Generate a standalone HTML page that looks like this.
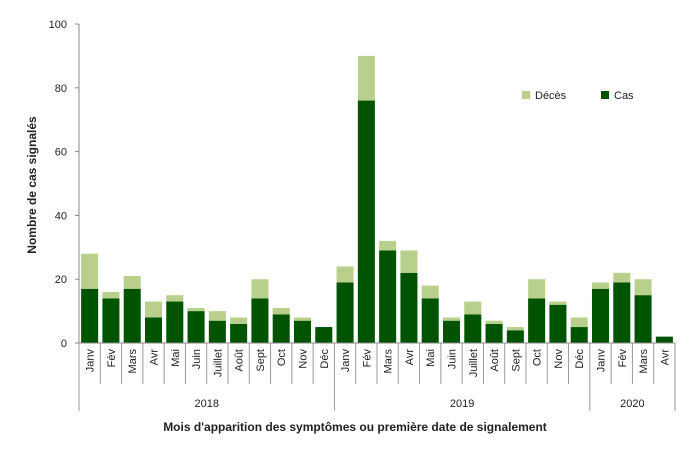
<!DOCTYPE html>
<html><head><meta charset="utf-8"><style>
body{margin:0;background:#fff;}
svg text{font-family:"Liberation Sans",sans-serif;fill:#222;}
</style></head><body>
<svg id="chart" width="699" height="450" viewBox="0 0 699 450" xmlns="http://www.w3.org/2000/svg">
<g id="yaxis"></g>
<g id="bars"></g>
<g id="xaxis"></g>
<text transform="translate(36,185) rotate(-90)" text-anchor="middle" font-size="12" font-weight="bold">Nombre de cas signalés</text>
<text x="355" y="431" text-anchor="middle" font-size="12" font-weight="bold">Mois d'apparition des symptômes ou première date de signalement</text>
<g>
<rect x="522" y="91" width="8" height="8" fill="#b8d08c"/>
<text x="535" y="99" font-size="11">Décès</text>
<rect x="601" y="91" width="8" height="8" fill="#005300"/>
<text x="614" y="99" font-size="11">Cas</text>
</g>
</svg>
<script>
const months = ["Janv","Fév","Mars","Avr","Mai","Juin","Juillet","Août","Sept","Oct","Nov","Déc","Janv","Fév","Mars","Avr","Mai","Juin","Juillet","Août","Sept","Oct","Nov","Déc","Janv","Fév","Mars","Avr"];
const cas = [17,14,17,8,13,10,7,6,14,9,7,5,19,76,29,22,14,7,9,6,4,14,12,5,17,19,15,2];
const deces = [11,2,4,5,2,1,3,2,6,2,1,0,5,14,3,7,4,1,4,1,1,6,1,3,2,3,5,0];
const years = ["2018","2019","2020"];
const yearCounts = [12,12,4];
const yTicks = [0,20,40,60,80,100];

const NS="http://www.w3.org/2000/svg";
const x0=79,x1=675,yBase=343,yTop=24,yMax=100;
const bw=(x1-x0)/months.length;
const y=v=>yBase-(v/yMax)*(yBase-yTop);
function mk(tag,attrs,parent){const e=document.createElementNS(NS,tag);for(const k in attrs)e.setAttribute(k,attrs[k]);parent.appendChild(e);return e;}
const ya=document.getElementById('yaxis'),ba=document.getElementById('bars'),xa=document.getElementById('xaxis');
mk('line',{x1:x0,y1:yTop,x2:x0,y2:yBase,stroke:'#888'},ya);
yTicks.forEach(t=>{
  const tx=mk('text',{x:x0-12,y:y(t)+4,'text-anchor':'end','font-size':11},ya);
  tx.textContent=t;
  
  
  mk('line',{x1:x0-4,y1:y(t),x2:x0,y2:y(t),stroke:'#888'},ya);
});
months.forEach((m,i)=>{
  const bx=x0+i*bw+bw*0.1,w=bw*0.8;
  const r1=mk('rect',{x:bx,y:y(cas[i]),width:w,height:yBase-y(cas[i]),fill:'#005300'},ba);
  
  
  const r2=mk('rect',{x:bx,y:y(cas[i]+deces[i]),width:w,height:y(cas[i])-y(cas[i]+deces[i]),fill:'#b8d08c'},ba);
  
  
  const cx=x0+(i+0.5)*bw;
  const t=mk('text',{transform:`translate(${cx+4},349) rotate(-90)`,'text-anchor':'end','font-size':11},xa);
  t.textContent=m;
  
  
});
mk('line',{x1:x0,y1:yBase,x2:x1,y2:yBase,stroke:'#888'},xa);
let idx=0;const bounds=[0];
yearCounts.forEach(c=>{idx+=c;bounds.push(idx);});
for(let i=0;i<=months.length;i++){
  const lx=x0+i*bw;
  const isYear=bounds.includes(i);
  mk('line',{x1:lx,y1:yBase,x2:lx,y2:isYear?411:384,stroke:'#999'},xa);
}
years.forEach((yr,k)=>{
  const cx=x0+(bounds[k]+bounds[k+1])/2*bw;
  const t=mk('text',{x:cx,y:407,'text-anchor':'middle','font-size':11},xa);
  t.textContent=yr;
  
  
});
</script>
</body></html>
